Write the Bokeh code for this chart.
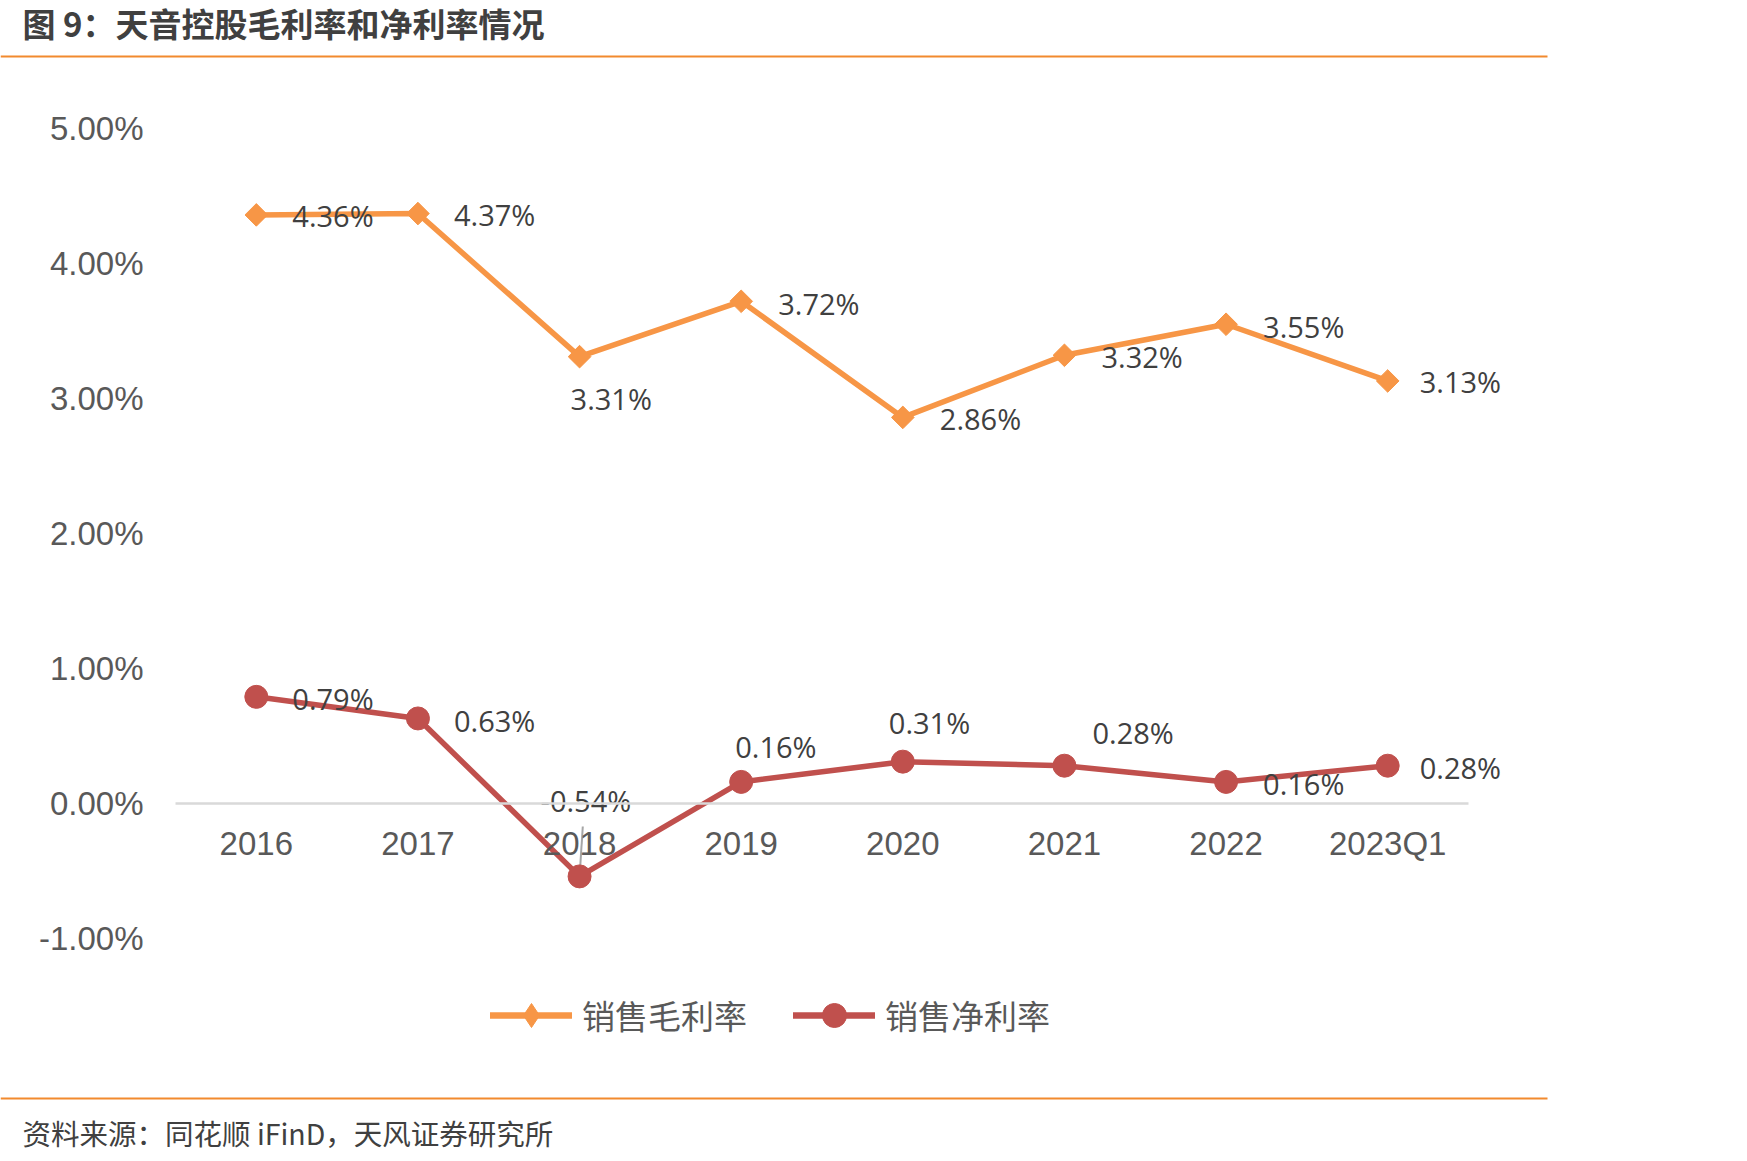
import math
from bokeh.plotting import figure
from bokeh.models import (Range1d, FixedTicker, PrintfTickFormatter, Label,
                          BoxAnnotation, Legend, LegendItem, ColumnDataSource)
from bokeh.embed import file_html
from bokeh.resources import INLINE

# ---- data ----
categories = ["2016", "2017", "2018", "2019", "2020", "2021", "2022", "2023Q1"]
gross_margin = [4.36, 4.37, 3.31, 3.72, 2.86, 3.32, 3.55, 3.13]   # 销售毛利率 (%)
net_margin = [0.79, 0.63, -0.54, 0.16, 0.31, 0.28, 0.16, 0.28]    # 销售净利率 (%)
y_ticks = [-1, 0, 1, 2, 3, 4, 5]
title_text = "图 9：天音控股毛利率和净利率情况"
source_text = "资料来源：同花顺 iFinD，天风证券研究所"
series_names = ["销售毛利率", "销售净利率"]

# ---- styles / layout ----
ORANGE = "#F79646"
RED = "#C0504D"
TXT = "#404040"
AX = "#595959"
W, H = 1747, 1161
PLOT_L, PLOT_R, PLOT_T, PLOT_B = 175, 1468, 128, 938   # plot area in pixels
Y_MIN, Y_MAX = -1, 5
n = len(categories)
xpx = (PLOT_R - PLOT_L) / n
ypx = (PLOT_B - PLOT_T) / (Y_MAX - Y_MIN)
x_start = -0.5 - PLOT_L / xpx
x_end = n - 0.5 + (W - PLOT_R) / xpx
y_end = Y_MAX + PLOT_T / ypx
y_start = Y_MIN - (H - PLOT_B) / ypx

# label offsets (screen px): left-aligned text start, vertical centre offset (down positive)
gross_dx = [36, 36, -9, 37, 37, 37, 37, 32]
gross_dy = [1, 1, 42, 2, 1, 1, 2, 1]
net_dx = [36, 36, -39, -6, -14, 28, 37, 32]
net_dy = [2, 2, -76, -35, -39, -33, 2, 2]

p = figure(width=W, height=H, x_range=Range1d(x_start, x_end), y_range=Range1d(y_start, y_end),
           output_backend="svg", toolbar_location=None,
           min_border=0, min_border_left=0, min_border_right=0, min_border_top=0, min_border_bottom=0)
p.title.visible = False
p.outline_line_color = None
p.grid.visible = False
p.background_fill_color = "white"
p.border_fill_color = "white"

# y axis at the left edge of the plot area
p.yaxis.fixed_location = -0.5
p.yaxis.ticker = FixedTicker(ticks=y_ticks)
p.yaxis.formatter = PrintfTickFormatter(format="%.2f%%")
p.yaxis.axis_line_color = None
p.yaxis.major_tick_line_color = None
p.yaxis.minor_tick_line_color = None
p.yaxis.major_tick_out = 0
p.yaxis.major_label_standoff = 32
p.yaxis.major_label_text_font = "Liberation Sans"
p.yaxis.major_label_text_font_size = "33px"
p.yaxis.major_label_text_color = AX

# x axis on the zero line, limited to the plot area
p.xaxis.fixed_location = 0
p.xaxis.bounds = (-0.5, n - 0.5)
p.xaxis.ticker = FixedTicker(ticks=list(range(n)))
p.xaxis.major_label_overrides = {i: c for i, c in enumerate(categories)}
p.xaxis.axis_line_color = "#D9D9D9"
p.xaxis.axis_line_width = 2.5
p.xaxis.major_tick_line_color = None
p.xaxis.minor_tick_line_color = None
p.xaxis.major_tick_out = 0
p.xaxis.major_label_standoff = 21
p.xaxis.major_label_text_font = "Liberation Sans"
p.xaxis.major_label_text_font_size = "33px"
p.xaxis.major_label_text_color = AX

src = ColumnDataSource(dict(
    x=list(range(n)), g=gross_margin, nm=net_margin,
    gl=[f"{v:.2f}%" for v in gross_margin], nl=[f"{v:.2f}%" for v in net_margin],
    gdx=gross_dx, gdy=gross_dy, ndx=net_dx, ndy=net_dy))

# leader line for the 2018 net label
p.segment(x0=[2 + 0.02], y0=[net_margin[2] + 0.37], x1=[2], y1=[net_margin[2]],
          line_color="#A6A6A6", line_width=2)

gl = p.line("x", "g", source=src, line_color=ORANGE, line_width=5.5)
gm = p.scatter("x", "g", source=src, marker="square", size=16, angle=math.pi / 4,
               fill_color=ORANGE, line_color=ORANGE)
nl = p.line("x", "nm", source=src, line_color=RED, line_width=5.5)
nmk = p.scatter("x", "nm", source=src, marker="circle", size=23, fill_color=RED, line_color=RED)

# legend-only renderers (NaN position, never drawn in the plot)
nan = float("nan")
lg_gl = p.line(x=[nan, nan], y=[nan, nan], line_color=ORANGE, line_width=6.5, line_cap="round")
lg_nl = p.line(x=[nan, nan], y=[nan, nan], line_color=RED, line_width=6.5, line_cap="round")
lg_d = p.scatter(x=[nan], y=[nan], marker="diamond", size=20, fill_color=ORANGE, line_color=ORANGE)
lg_c = p.scatter(x=[nan], y=[nan], marker="circle", size=20, fill_color=RED, line_color=RED)

p.text("x", "g", text="gl", source=src, x_offset="gdx", y_offset="gdy",
       text_align="left", text_baseline="middle", text_font={"value": "Open Sans"},
       text_font_size="29px", text_color=TXT)
p.text("x", "nm", text="nl", source=src, x_offset="ndx", y_offset="ndy",
       text_align="left", text_baseline="middle", text_font={"value": "Open Sans"},
       text_font_size="29px", text_color=TXT)

legend = Legend(items=[LegendItem(label=series_names[0], renderers=[lg_gl, lg_d]),
                       LegendItem(label=series_names[1], renderers=[lg_nl, lg_c])],
                orientation="horizontal", location=(490, 116),
                glyph_width=82, glyph_height=60, spacing=46, label_standoff=10,
                label_text_font="Noto Sans CJK SC", label_text_font_size="33px",
                label_text_color=AX, label_height=60,
                border_line_color=None, background_fill_alpha=0,
                padding=0, margin=0)
p.add_layout(legend, "center")

# title, source text and the orange rules
p.add_layout(Label(x=22, y=22, x_units="canvas", y_units="canvas", text=title_text,
                   text_font="Noto Sans CJK SC", text_font_style="bold", text_font_size="33px",
                   text_color=TXT, text_baseline="middle", text_align="left"))
p.add_layout(Label(x=22, y=1132, x_units="canvas", y_units="canvas", text=source_text,
                   text_font="Noto Sans CJK SC", text_font_size="28.5px",
                   text_color=TXT, text_baseline="middle", text_align="left"))
for yy in (56, 1098):
    p.add_layout(BoxAnnotation(left=0, right=1547, top=yy - 1, bottom=yy + 1,
                               left_units="canvas", right_units="canvas",
                               top_units="canvas", bottom_units="canvas",
                               fill_color="#F28A2E", fill_alpha=1, line_color=None))

open("out.html", "w").write(file_html(p, INLINE))
